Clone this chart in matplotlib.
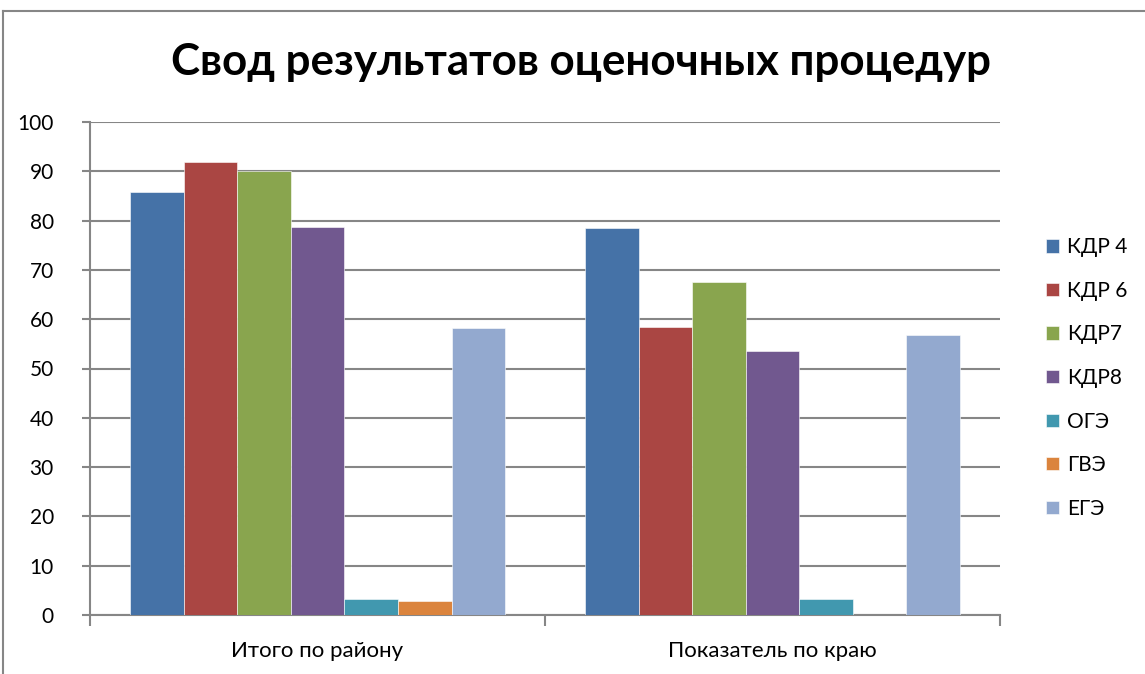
import matplotlib
matplotlib.use("Agg")
import matplotlib.pyplot as plt
import numpy as np
from matplotlib.lines import Line2D

categories = ["Итого по району", "Показатель по краю"]
series_names = ["КДР 4", "КДР 6", "КДР7", "КДР8", "ОГЭ", "ГВЭ", "ЕГЭ"]
kdr4 = [85.7, 78.4]
kdr6 = [91.8, 58.4]
kdr7 = [90.0, 67.5]
kdr8 = [78.7, 53.5]
oge = [3.2, 3.3]
gve = [2.8, 0.0]
ege = [58.2, 56.8]
series_values = [kdr4, kdr6, kdr7, kdr8, oge, gve, ege]
colors = ["#4572A7", "#AA4643", "#89A54E", "#71588F", "#4198AF", "#DB843D", "#93A9CF"]
yticks = [0, 10, 20, 30, 40, 50, 60, 70, 80, 90, 100]

plt.rcParams['font.family'] = ['Lato', 'DejaVu Sans']

W, H = 1145, 674
fig = plt.figure(figsize=(W / 100, H / 100), dpi=100)
ax = fig.add_axes([90 / W, (H - 615) / H, 910 / W, 493 / H])

n = len(series_names)
bw = 53.6 / 455
x = np.arange(len(categories))
for i, (name, vals, c) in enumerate(zip(series_names, series_values, colors)):
    offs = (i - (n - 1) / 2) * bw
    ax.bar(x + offs, vals, width=bw, color=c, label=name, zorder=3,
           edgecolor="white", linewidth=0.4)

ax.set_xlim(-0.5, 1.5)
ax.set_ylim(0, 100)
ax.set_yticks(yticks)
ax.set_yticklabels([str(v) for v in yticks], fontsize=15)
ax.yaxis.grid(True, color="#868686", linewidth=1.5, zorder=0)
ax.set_axisbelow(True)

ax.set_xticks([-0.5, 0.5, 1.5])
ax.set_xticklabels([])
ax.set_xticks(x, minor=True)
ax.set_xticklabels(categories, minor=True, fontsize=16)
ax.tick_params(axis="x", which="minor", length=0, pad=19)
ax.tick_params(axis="x", which="major", length=8, color="#868686", width=1.5, direction="out")
ax.tick_params(axis="y", length=6, color="#868686", width=1.5, direction="out", pad=20)

for s in ["top", "right"]:
    ax.spines[s].set_visible(False)
for s in ["left", "bottom"]:
    ax.spines[s].set_color("#868686")
    ax.spines[s].set_linewidth(1.5)

fig.text(581 / W, 1 - 62 / H, "Свод результатов оценочных процедур",
         ha="center", va="center", fontsize=31.6, fontweight="bold")

leg = fig.legend(loc="upper left", bbox_to_anchor=(1038 / W, 1 - 229 / H),
                 frameon=False, fontsize=15, handlelength=0.6, handleheight=0.6,
                 handletextpad=0.4, labelspacing=1.13, borderaxespad=0)

# outer border
fig.add_artist(Line2D([3 / W, 3 / W], [0, 1 - 11 / H], transform=fig.transFigure,
                      color="#868686", linewidth=1.5))
fig.add_artist(Line2D([3 / W, 1], [1 - 11 / H, 1 - 11 / H], transform=fig.transFigure,
                      color="#868686", linewidth=1.5))

fig.savefig("out.png", dpi=100)
